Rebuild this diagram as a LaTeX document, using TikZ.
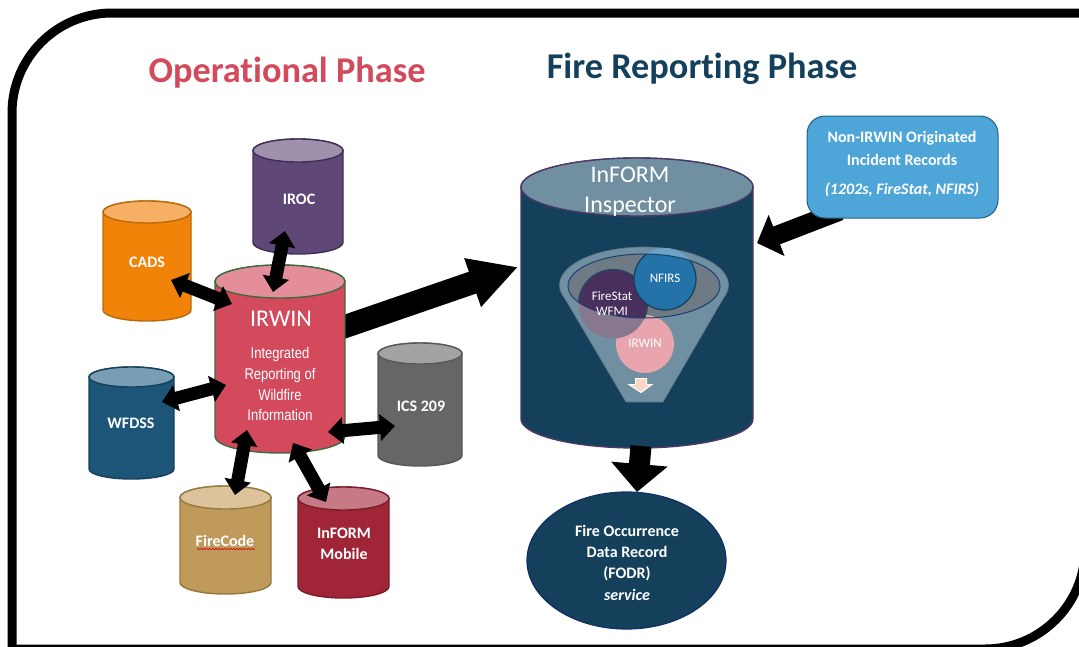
\documentclass[tikz,border=0pt]{standalone}
\usepackage{fontspec}
\setmainfont[Ligatures=CommonOff]{Carlito}
\newfontfamily\arialf{Liberation Sans}
\usetikzlibrary{arrows.meta,shapes.geometric,decorations.pathmorphing}
\newcommand{\fsz}[1]{\fontsize{#1}{#1}\selectfont}
% name, xl, xr, top, ellipse bottom, bottom, body, lid, stroke
\newcommand{\cyl}[9]{%
  \definecolor{cbody}{HTML}{#7}\definecolor{clid}{HTML}{#8}\definecolor{cline}{HTML}{#9}%
  \pgfmathsetmacro{\rx}{(#3-#2)/2}%
  \pgfmathsetmacro{\ry}{(#5-#4)/2}%
  \pgfmathsetmacro{\cx}{(#3+#2)/2}%
  \pgfmathsetmacro{\ty}{#4+\ry}%
  \pgfmathsetmacro{\by}{#6-\ry}%
  \draw[line width=1.4pt,draw=cline,fill=cbody] (#2,\ty) -- (#2,\by) arc (180:360:\rx pt and \ry pt) -- (#3,\ty) arc (0:180:\rx pt and \ry pt) -- cycle;
  \draw[line width=1.4pt,draw=cline,fill=clid] (\cx,\ty) ellipse (\rx pt and \ry pt);
}
\tikzset{
  x=1pt,y=-1pt,
  link/.style={line width=13pt,{Triangle[length=15pt,width=26pt]}-{Triangle[length=15pt,width=26pt]}},
  lab/.style={text=white,font=\fsz{16}\bfseries,align=center,inner sep=0pt},
  small/.style={text=white,font=\fsz{13},align=center,inner sep=0pt},
  rep/.style={text=white,font=\arialf\fsz{15.5},inner sep=0pt},
}
\definecolor{navy}{HTML}{15405C}
\definecolor{lidnavy}{HTML}{7090A2}
\definecolor{rosso}{HTML}{D24A5C}
\definecolor{funnelgray}{HTML}{6E7A84}
\definecolor{pinkc}{HTML}{E8A5AD}
\definecolor{firelight}{HTML}{88788F}
\definecolor{firedark}{HTML}{482F5C}
\definecolor{fireline}{HTML}{1F4A60}
\definecolor{nfirslight}{HTML}{6CA3C6}
\definecolor{nfirsdark}{HTML}{2473A8}
\definecolor{nfirsline}{HTML}{133F5F}
\definecolor{rimline}{HTML}{1B3F72}
\definecolor{peach}{HTML}{FBD5C5}
\definecolor{fodrline}{HTML}{0F2F66}
\definecolor{boxline}{HTML}{1F5F85}
\definecolor{boxfill}{HTML}{4EA5D8}
\begin{document}
\begin{tikzpicture}
\useasboundingbox (0,0) rectangle (1079,646);
\clip (0,0) rectangle (1079,646);
\fill[white] (0,0) rectangle (1079,646);
\draw[line width=9pt] (12,113) arc (180:90:100pt) -- (1085,13) -- (1085,549) arc (0:-90:100pt) -- (12,649) -- cycle;

\node[font=\fsz{36.3}\bfseries,text=rosso,inner sep=0pt] (optitle) at (287,73) {Operational Phase};
\node[font=\fsz{36.3}\bfseries,text=navy,inner sep=0pt] (frtitle) at (702,69) {Fire Reporting Phase};

% big arrows behind shapes
\coordinate (boxout) at (840,211);
\coordinate (inspin) at (757,243);
\draw[line width=19pt,-{Triangle[length=21pt,width=43pt]}] (boxout) -- (inspin);

% IRWIN to inspector, its tail hidden by the IRWIN cylinder
\coordinate (irwout) at (330,331.7);
\coordinate (inspfeed) at (518,267);
\draw[line width=23pt,-{Triangle[length=48pt,width=48pt]}] (irwout) -- (inspfeed);

% operational cylinders
\cyl{iroc}{253}{343}{139}{162}{254}{5F4778}{9F90AE}{3F2F55}
\node[lab] (iroc) at (299,199) {IROC};
\cyl{cads}{103}{191}{201}{223}{321}{F18308}{F7AF63}{B86A10}
\node[lab] (cads) at (147,262) {CADS};
\cyl{wfdss}{89}{174}{367}{387}{479}{1C5577}{779EB4}{14405C}
\node[lab] (wfdss) at (131,423) {WFDSS};
\cyl{ics}{378}{462}{343}{364}{466}{666666}{A3A3A3}{595959}
\node[lab] (ics) at (421,406) {ICS 209};
\cyl{firecode}{180}{271}{486}{509}{594}{BF9A5B}{DCC39B}{96793F}
\node[lab] (firecode) at (225,541) {FireCode};
\draw[red!85!black,line width=.6pt,decorate,decoration={snake,amplitude=.7pt,segment length=3pt}] (197,549) -- (255,549);
\cyl{mobile}{298}{389}{487}{510}{598}{A02537}{C67A86}{7A1C2A}
\node[lab,align=center] (mobile) at (344,544) {InFORM\\[5pt]Mobile};
\cyl{irwin}{215}{345}{265}{298}{453}{D24A5C}{E48E9B}{3F6B3F}
\node[inner sep=0pt,text=white,font=\fsz{24}] (irwin) at (281,319) {IRWIN};
\node[rep] (l1) at (280,354) {\scalebox{.84}[1]{Integrated}};
\node[rep] (l2) at (280,375) {\scalebox{.84}[1]{Reporting of}};
\node[rep] (l3) at (280,395) {\scalebox{.84}[1]{Wildfire}};
\node[rep] (l4) at (280,415) {\scalebox{.84}[1]{Information}};

% inspector
\cyl{insp}{521}{753}{158}{216}{448}{15405C}{7090A2}{4B3A66}
\node[text=white,font=\fsz{24},inner sep=0pt] (insp1) at (630,175) {InFORM};
\node[text=white,font=\fsz{24},inner sep=0pt] (insp2) at (630,207) {Inspector};

% funnel
\draw[fill=lidnavy,draw=lidnavy!80!black,line width=.6pt] (644,285) ellipse (84.5pt and 38pt);
\draw[fill=lidnavy,draw=lidnavy!80!black,line width=.6pt] (561,292) -- (626,402) -- (663,402) -- (727,292);
\fill[lidnavy] (570,285) -- (718,285) -- (663,401) -- (626,401) -- cycle;
\fill[funnelgray] (644,286) ellipse (76pt and 32pt);
\fill[pinkc] (645,344) circle (29pt);
\fill[firelight] (613,304) circle (34.5pt);
\fill[nfirslight] (665,279) circle (31pt);
\begin{scope}
  \clip (644,286) ellipse (76pt and 32pt);
  \draw[fill=firedark,draw=fireline,line width=1.2pt] (613,304) circle (34.5pt);
  \draw[fill=nfirsdark,draw=nfirsline,line width=1.2pt] (665,279) circle (31pt);
\end{scope}
\draw[draw=rimline,line width=1pt] (644,286) ellipse (76pt and 32pt);
\node[small] (nfirs) at (665,278) {NFIRS};
\node[small,align=center] (firestat) at (612,304) {FireStat\\[2pt]WFMI};
\node[small,text=white] (irwinc) at (645,343) {IRWIN};
\draw[white,fill=peach,line width=1pt] (635.5,378.5) -- (646.5,378.5) -- (646.5,384.5) -- (652,384.5) -- (641,392.5) -- (629,384.5) -- (635.5,384.5) -- cycle;

% inspector to FODR
\coordinate (inspout) at (641,446);
\coordinate (fodrin) at (637,492);
\draw[line width=21pt,-{Triangle[length=28pt,width=55pt]}] (inspout) -- (fodrin);

% FODR
\node[ellipse,draw=fodrline,fill=navy,line width=1.2pt,minimum width=199pt,minimum height=137pt,inner sep=0pt] (fodr) at (626.5,560.5) {};
\node[lab] (f1) at (627,531) {Fire Occurrence};
\node[lab] (f2) at (627,552) {Data Record};
\node[lab] (f3) at (627,574) {(FODR)};
\node[lab,font=\fsz{16}\bfseries\itshape] (f4) at (627,595) {service};

% blue box
\node[draw=boxline,fill=boxfill,line width=1pt,rounded corners=18pt,minimum width=191pt,minimum height=102pt,inner sep=0pt] (box) at (902.5,167) {};
\node[lab] (b1) at (902,138) {Non-IRWIN Originated};
\node[lab] (b2) at (902,160) {Incident Records};
\node[lab,font=\fsz{16}\bfseries\itshape] (b3) at (902,190) {(1202s, FireStat, NFIRS)};

% two-way links
\coordinate (a1) at (285,231); \coordinate (a2) at (273,292);
\draw[link] (a1) -- (a2);
\coordinate (b1a) at (171,280); \coordinate (b2a) at (232,304);
\draw[link] (b1a) -- (b2a);
\coordinate (c1) at (162,402); \coordinate (c2) at (226,385);
\draw[link] (c1) -- (c2);
\coordinate (d1) at (328,432); \coordinate (d2) at (395,426);
\draw[link] (d1) -- (d2);
\coordinate (e1) at (247,430); \coordinate (e2) at (235,495);
\draw[link] (e1) -- (e2);
\coordinate (f1a) at (293,443); \coordinate (f2a) at (326,502);
\draw[link] (f1a) -- (f2a);
\end{tikzpicture}
\end{document}
